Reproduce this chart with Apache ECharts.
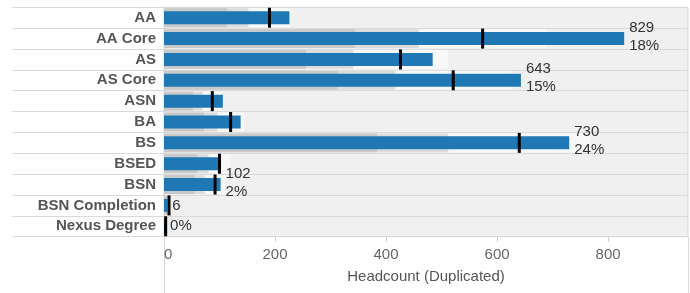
<!DOCTYPE html>
<html><head><meta charset="utf-8">
<script src="https://cdn.jsdelivr.net/npm/echarts@6/dist/echarts.min.js"></script>
<style>html,body{margin:0;padding:0;background:#fff}#c{width:690px;height:293px}</style>
</head><body><div id="c"></div>
<script>
const categories = ['AA','AA Core','AS','AS Core','ASN','BA','BS','BSED','BSN','BSN Completion','Nexus Degree'];
const headcount = [226,829,484,643,106,138,730,98,102,6,2];
const reference = [190,574,426,521,87,120,640,100,92,9,3];
const dataLabels = ['', '829\n18%', '', '643\n15%', '', '', '730\n24%', '', '102\n2%', '6', '0%'];
const bandPercents = [0.6, 0.8, 1.2];
const xTicks = [0,200,400,600,800];
const xMax = 944;

const FONT = 'Liberation Sans, Arial, sans-serif';
const bandColors = ['#c9c9c9', '#dcdcdc', '#f8f8f8'];

function renderBullet(params, api) {
  const cat = api.value(0), val = api.value(1), ref = api.value(2);
  const p0 = api.coord([0, cat]);
  const rowH = api.size([0, 1])[1];
  const cy = p0[1], x0 = p0[0];
  const bandH = rowH - 2;
  const children = [];
  for (let k = bandPercents.length - 1; k >= 0; k--) {
    const xe = api.coord([ref * bandPercents[k], cat])[0];
    children.push({type:'rect', shape:{x:x0, y:cy - bandH/2, width:xe - x0, height:bandH}, style:{fill:bandColors[k]}});
  }
  const xb = api.coord([val, cat])[0];
  children.push({type:'rect', shape:{x:x0, y:cy - 6.5, width:xb - x0, height:13}, style:{fill:'#1f77b4'}});
  const xm = api.coord([ref, cat])[0];
  children.push({type:'rect', shape:{x:xm - 1.5, y:cy - 10, width:3, height:20}, style:{fill:'#000'}});
  return {type:'group', children};
}

function renderLabel(params, api) {
  const cat = api.value(0), val = api.value(1);
  const txt = dataLabels[params.dataIndex];
  if (!txt) return null;
  const p = api.coord([val, cat]);
  const multi = txt.indexOf('\n') >= 0;
  return {type:'text', x:p[0] + 5, y:p[1] - (multi ? 2 : 0),
    style:{text:txt, fill:'#333', fontSize:15, fontFamily:FONT, align:'left', verticalAlign:'middle', lineHeight:18}};
}

const chart = echarts.init(document.getElementById('c'));
chart.setOption({
  animation:false,
  grid:{left:164, right:2, top:7.3, bottom:56.3, show:true, backgroundColor:'#f0f0f0', borderColor:'#d9d9d9', borderWidth:1},
  xAxis:{type:'value', min:0, max:xMax, position:'bottom',
    axisLine:{show:false}, splitLine:{show:false},
    axisTick:{show:true, length:5, lineStyle:{color:'#d0d0d0'}, customValues:xTicks},
    axisLabel:{customValues:xTicks, color:'#666', fontSize:15, fontFamily:FONT, margin:11, alignMinLabel:'left'},
    name:'Headcount (Duplicated)', nameLocation:'middle', nameGap:33,
    nameTextStyle:{color:'#555', fontSize:15, fontFamily:FONT}},
  yAxis:{type:'category', data:categories, inverse:true,
    axisLine:{show:true, lineStyle:{color:'#d4d4d4'}},
    axisTick:{show:true, length:152, interval:0, lineStyle:{color:'#d9d9d9'}},
    axisLabel:{fontSize:15, fontWeight:'bold', color:'#555', fontFamily:FONT, margin:8, interval:0},
    splitLine:{show:true, interval:0, lineStyle:{color:'#dadada'}}},
  graphic:[
    {type:'line', shape:{x1:164.5, y1:237, x2:164.5, y2:293}, style:{stroke:'#d4d4d4', lineWidth:1}},
    {type:'line', shape:{x1:688.5, y1:237, x2:688.5, y2:293}, style:{stroke:'#d9d9d9', lineWidth:1}}
  ],
  series:[
    {type:'custom', renderItem:renderBullet, encode:{x:[1,2], y:0},
      data:headcount.map((v,i)=>[i, v, reference[i]]), z:2},
    {type:'custom', renderItem:renderLabel, encode:{x:1, y:0},
      data:headcount.map((v,i)=>[i, v]), z:5}
  ]
});
</script></body></html>
